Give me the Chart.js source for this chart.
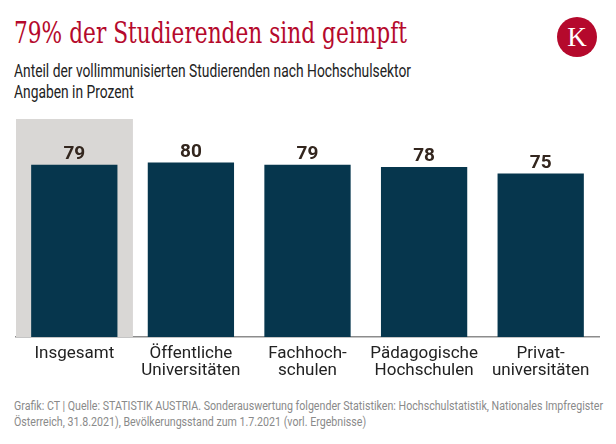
<!DOCTYPE html>
<html><head><meta charset="utf-8">
<script src="https://cdn.jsdelivr.net/npm/chart.js@4"></script>
<style>
html,body{margin:0;padding:0;background:#fff;width:616px;height:444px;overflow:hidden;position:relative;font-family:Roboto,sans-serif}
.fit{position:absolute;left:14px;transform-origin:0 0;white-space:nowrap}
.fit span{display:inline-block}
#title{top:14px;font-family:'DejaVu Serif',serif;font-size:29px;color:#b5092c;line-height:38px}
#sub{top:60px;font-size:18px;line-height:21px;color:#222}
#foot{top:398px;font-size:12.5px;line-height:16px;color:#8a8a8a}
#logo{position:absolute;left:557px;top:17px;width:40px;height:40px;border-radius:50%;background:#b5092c;color:#fff;font-family:'Liberation Serif',serif;font-size:27px;text-align:center;line-height:40px}
#wrap{position:absolute;left:0;top:100px;width:616px;height:295px}
</style></head><body>
<div id="title" class="fit" data-w="393"><span>79% der Studierenden sind geimpft</span></div>
<div id="logo">K</div>
<div id="sub" class="fit" data-w="397"><span>Anteil der vollimmunisierten Studierenden nach Hochschulsektor</span><br>Angaben in Prozent</div>
<div id="wrap"><canvas id="c" width="616" height="295"></canvas></div>
<div id="foot" class="fit" data-w="589"><span>Grafik: CT | Quelle: STATISTIK AUSTRIA. Sonderauswertung folgender Statistiken: Hochschulstatistik, Nationales Impfregister</span><br>Österreich, 31.8.2021), Bevölkerungsstand zum 1.7.2021 (vorl. Ergebnisse)</div>
<script>
document.querySelectorAll('.fit').forEach(el => {
  const w = el.querySelector('span').getBoundingClientRect().width;
  const target = parseFloat(el.dataset.w);
  el.style.transform = 'scaleX(' + (target / w) + ')';
});

const categories = [["Insgesamt"],["Öffentliche","Universitäten"],["Fachhoch-","schulen"],["Pädagogische","Hochschulen"],["Privat-","universitäten"]];
const values = [79, 80, 79, 78, 75];
const highlight = [100, null, null, null, null];

const valueLabels = {
  id: 'valueLabels',
  afterDatasetsDraw(chart) {
    const ctx = chart.ctx;
    const meta = chart.getDatasetMeta(1);
    ctx.save();
    ctx.font = 'bold 19px Roboto, sans-serif';
    ctx.fillStyle = '#33261e';
    ctx.textAlign = 'center';
    ctx.textBaseline = 'alphabetic';
    meta.data.forEach((bar, i) => {
      ctx.fillText(String(values[i]), bar.x, bar.y - 6);
    });
    ctx.restore();
  }
};

new Chart(document.getElementById('c'), {
  type: 'bar',
  data: {
    labels: categories,
    datasets: [
      { data: highlight, backgroundColor: '#d9d7d5', barPercentage: 1, categoryPercentage: 1, grouped: false, order: 2 },
      { data: values, backgroundColor: '#06364d', barPercentage: 0.74, categoryPercentage: 1, grouped: false, order: 1 }
    ]
  },
  options: {
    responsive: false,
    animation: false,
    layout: { padding: { left: 16, right: 17, top: 19, bottom: 0 } },
    plugins: { legend: { display: false }, tooltip: { enabled: false } },
    scales: {
      y: { min: 0, max: 100, display: false },
      x: {
        grid: { display: false, drawTicks: false },
        border: { display: true, color: '#8c8c8c', width: 1.5 },
        ticks: { color: '#222', font: { family: "Roboto, sans-serif", size: 17, lineHeight: 1.02 }, padding: 8, maxRotation: 0, autoSkip: false },
        afterFit(scale) { scale.height = 58; }
      }
    }
  },
  plugins: [valueLabels]
});
</script>
</body></html>
